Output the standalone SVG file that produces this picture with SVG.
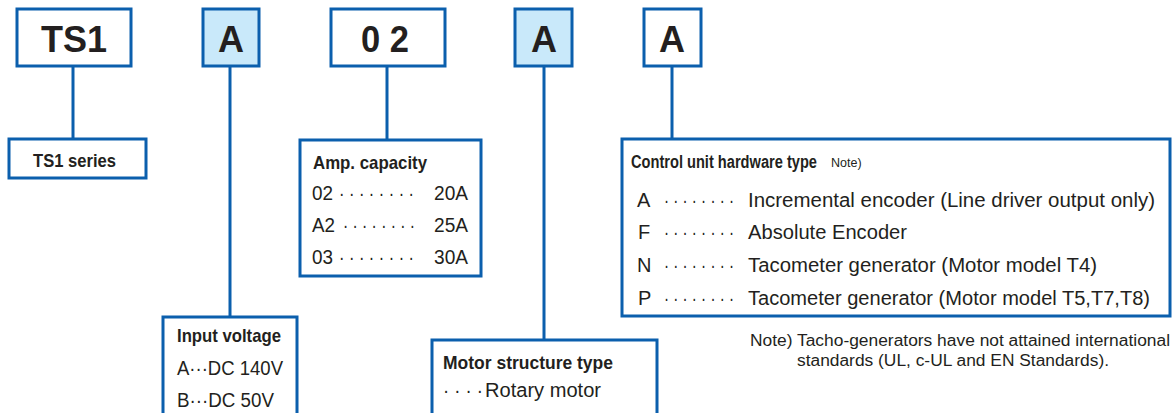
<svg xmlns="http://www.w3.org/2000/svg" width="1175" height="413" viewBox="0 0 1175 413">
<style>
.box{fill:#fff;stroke:#0b5fad;stroke-width:3}
.hl{fill:#c9e9fa}
.ln{stroke:#0b5fad;stroke-width:3;fill:none}
.big{font-family:"Liberation Sans",Arial,sans-serif;font-weight:bold;font-size:36px;fill:#231f20;text-anchor:middle}
.h{font-family:"Liberation Sans Narrow","Liberation Sans",Arial,sans-serif;font-weight:bold;font-size:19px;fill:#231f20}
.t{font-family:"Liberation Sans Narrow","Liberation Sans",Arial,sans-serif;font-size:20px;fill:#231f20}
.n{font-family:"Liberation Sans Narrow","Liberation Sans",Arial,sans-serif;font-size:16px;fill:#231f20}
.s{font-family:"Liberation Sans Narrow","Liberation Sans",Arial,sans-serif;font-size:12.5px;fill:#231f20}
</style>
<g id="connectors">
<line class="ln" x1="73" y1="66" x2="73" y2="139"/>
<line class="ln" x1="230" y1="66" x2="230" y2="317"/>
<line class="ln" x1="387" y1="66" x2="387" y2="140"/>
<line class="ln" x1="544" y1="66" x2="544" y2="340"/>
<line class="ln" x1="672" y1="66" x2="672" y2="139"/>
</g>
<g id="code-ts1"><rect class="box" x="17" y="9" width="114" height="57"/><text class="big" x="74" y="52">TS1</text></g>
<g id="code-a1"><rect class="box hl" x="203" y="9" width="56" height="57"/><text class="big" x="231" y="52">A</text></g>
<g id="code-02"><rect class="box" x="331" y="9" width="114" height="57"/><text class="big" x="385" y="52" textLength="48" lengthAdjust="spacingAndGlyphs">0 2</text></g>
<g id="code-a2"><rect class="box hl" x="515" y="9" width="57" height="57"/><text class="big" x="544" y="52">A</text></g>
<g id="code-a3"><rect class="box" x="644" y="9" width="57" height="57"/><text class="big" x="672" y="52">A</text></g>

<g id="ts1-series"><rect class="box" x="9" y="139" width="137" height="39"/><text class="h" x="33" y="167" textLength="83" lengthAdjust="spacingAndGlyphs">TS1 series</text></g>

<g id="input-voltage"><rect class="box" x="163" y="317" width="134" height="100"/>
<text class="h" x="177" y="342" textLength="104" lengthAdjust="spacingAndGlyphs">Input voltage</text>
<text class="t" x="177" y="375" textLength="106" lengthAdjust="spacingAndGlyphs">A···DC 140V</text>
<text class="t" x="177" y="407" textLength="97" lengthAdjust="spacingAndGlyphs">B···DC 50V</text>
</g>

<g id="amp-capacity"><rect class="box" x="300" y="140" width="181" height="136"/>
<text class="h" x="313" y="169" textLength="114" lengthAdjust="spacingAndGlyphs">Amp. capacity</text>
<text class="t" x="312" y="200" textLength="21" lengthAdjust="spacingAndGlyphs">02</text>
<text class="t" x="339" y="200" textLength="75" lengthAdjust="spacingAndGlyphs">· · · · · · · ·</text>
<text class="t" x="434" y="200" textLength="34" lengthAdjust="spacingAndGlyphs">20A</text>
<text class="t" x="312" y="232" textLength="23" lengthAdjust="spacingAndGlyphs">A2</text>
<text class="t" x="343" y="232" textLength="72" lengthAdjust="spacingAndGlyphs">· · · · · · · ·</text>
<text class="t" x="434" y="232" textLength="34" lengthAdjust="spacingAndGlyphs">25A</text>
<text class="t" x="312" y="264" textLength="21" lengthAdjust="spacingAndGlyphs">03</text>
<text class="t" x="339" y="264" textLength="75" lengthAdjust="spacingAndGlyphs">· · · · · · · ·</text>
<text class="t" x="434" y="264" textLength="34" lengthAdjust="spacingAndGlyphs">30A</text>
</g>

<g id="motor-structure"><rect class="box" x="432" y="340" width="225" height="80"/>
<text class="h" x="443" y="369" textLength="170" lengthAdjust="spacingAndGlyphs">Motor structure type</text>
<text class="t" x="443" y="397" textLength="40" lengthAdjust="spacingAndGlyphs">· · · ·</text>
<text class="t" x="485" y="397" textLength="116" lengthAdjust="spacingAndGlyphs">Rotary motor</text>
</g>

<g id="control-unit"><rect class="box" x="622" y="139" width="548" height="177"/>
<text class="h" transform="translate(631 168) scale(0.77 1)">Control unit hardware type</text>
<text class="s" x="831" y="167">Note)</text>
<text class="t" x="637" y="207">A</text>
<text class="t" x="664" y="207" textLength="70" lengthAdjust="spacingAndGlyphs">· · · · · · · ·</text>
<text class="t" x="748" y="207" textLength="407" lengthAdjust="spacingAndGlyphs">Incremental encoder (Line driver output only)</text>
<text class="t" x="638" y="239">F</text>
<text class="t" x="664" y="239" textLength="70" lengthAdjust="spacingAndGlyphs">· · · · · · · ·</text>
<text class="t" x="748" y="239" textLength="159" lengthAdjust="spacingAndGlyphs">Absolute Encoder</text>
<text class="t" x="637" y="272">N</text>
<text class="t" x="664" y="272" textLength="70" lengthAdjust="spacingAndGlyphs">· · · · · · · ·</text>
<text class="t" x="748" y="272" textLength="349" lengthAdjust="spacingAndGlyphs">Tacometer generator (Motor model T4)</text>
<text class="t" x="638" y="305">P</text>
<text class="t" x="664" y="305" textLength="70" lengthAdjust="spacingAndGlyphs">· · · · · · · ·</text>
<text class="t" x="748" y="305" textLength="402" lengthAdjust="spacingAndGlyphs">Tacometer generator (Motor model T5,T7,T8)</text>
</g>

<g id="note">
<text class="n" x="750" y="346" textLength="420" lengthAdjust="spacingAndGlyphs">Note) Tacho-generators have not attained international</text>
<text class="n" x="797" y="366" textLength="312" lengthAdjust="spacingAndGlyphs">standards (UL, c-UL and EN Standards).</text>
</g>
</svg>
